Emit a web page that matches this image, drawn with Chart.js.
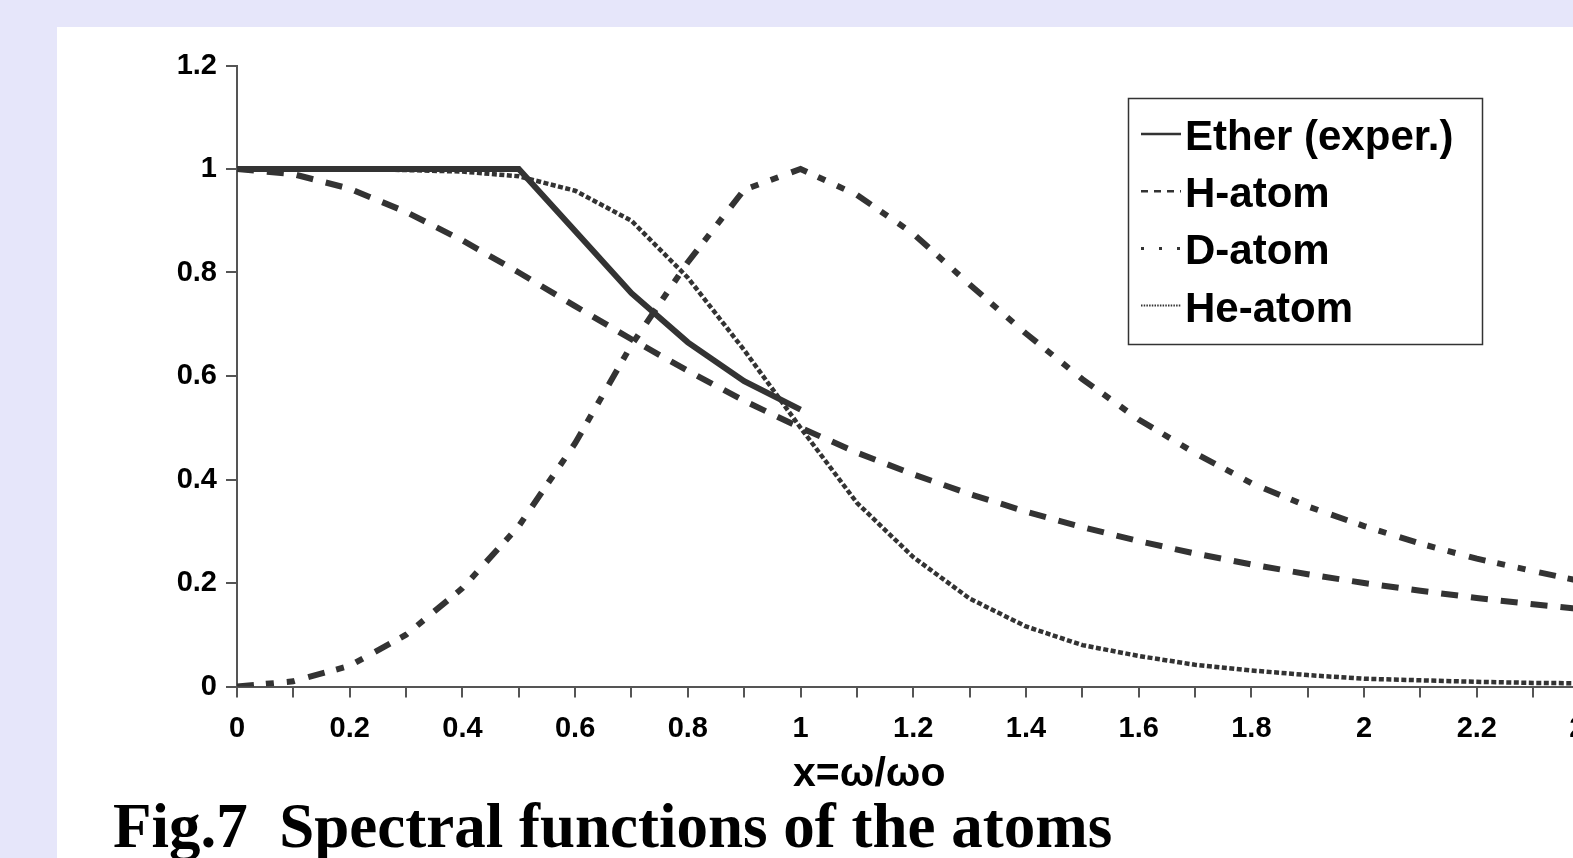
<!DOCTYPE html>
<html><head><meta charset="utf-8">
<script src="https://cdn.jsdelivr.net/npm/chart.js@4/dist/chart.umd.min.js"></script>
<style>
html,body{margin:0;padding:0;width:1573px;height:858px;overflow:hidden;background:#e6e6fa;}
#panel{position:absolute;left:57px;top:27px;width:1700px;height:900px;background:#fff;}
#c{position:absolute;left:0;top:0;}
#xt{position:absolute;left:793px;top:752px;font:bold 41px "Liberation Sans",Arial,sans-serif;line-height:40px;color:#000;white-space:pre;}
#fig{position:absolute;left:113px;top:795px;font:bold 63px "Liberation Serif","Times New Roman",serif;line-height:62px;color:#000;white-space:pre;}
</style></head>
<body>
<div id="panel"></div>
<canvas id="c" width="1700" height="858"></canvas>
<div id="xt">x=ω/ωo</div>
<div id="fig">Fig.7  Spectral functions of the atoms</div>
<script>
const xValues = [0,0.1,0.2,0.3,0.4,0.5,0.6,0.7,0.8,0.9,1.0,1.1,1.2,1.3,1.4,1.5,1.6,1.7,1.8,1.9,2.0,2.1,2.2,2.3,2.4];
const seriesNames = ["Ether (exper.)","H-atom","D-atom","He-atom"];
const ether = [1,1,1,1,1,1,0.88,0.76,0.665,0.59,0.535];
const hAtom = [1,0.99,0.962,0.917,0.862,0.8,0.735,0.671,0.61,0.552,0.5,0.452,0.41,0.372,0.338,0.308,0.281,0.257,0.236,0.217,0.2,0.185,0.171,0.159,0.148];
const dAtom = [0,0.01,0.04,0.1,0.19,0.31,0.47,0.66,0.82,0.96,1.0,0.95,0.875,0.777,0.682,0.594,0.516,0.451,0.393,0.348,0.31,0.276,0.247,0.223,0.2];
const heAtom = [1,1,1,0.998,0.995,0.986,0.958,0.9,0.79,0.65,0.5,0.355,0.25,0.17,0.116,0.08,0.059,0.042,0.031,0.022,0.015,0.012,0.009,0.007,0.006];
const yTicks = [0,0.2,0.4,0.6,0.8,1,1.2];

const pts = arr => arr.map((v,i)=>({x:xValues[i], y:v}));
const lineCol = '#333333';
const legendStyles = [
  {dash:[], width:2.5},
  {dash:[7,6], width:2.5},
  {dash:[3,15], width:3},
  {dash:[1.5,1.2], width:2}
];
const boxLegend = {
  id:'boxLegend',
  afterDraw(chart){
    const ctx = chart.ctx;
    ctx.save();
    ctx.strokeStyle = '#333'; ctx.lineWidth = 1.5; ctx.setLineDash([]);
    ctx.strokeRect(1128.5, 98.5, 354, 246);
    chart.data.datasets.forEach((ds,i)=>{
      const yb = 150 + i*57.2;
      const st = legendStyles[i];
      ctx.strokeStyle = lineCol; ctx.lineWidth = st.width; ctx.setLineDash(st.dash); ctx.lineCap='butt';
      ctx.beginPath(); ctx.moveTo(1141, yb-16); ctx.lineTo(1181, yb-16); ctx.stroke();
      ctx.setLineDash([]);
      ctx.fillStyle = '#000'; ctx.font = 'bold 42px "Liberation Sans", Arial, sans-serif';
      ctx.textBaseline = 'alphabetic'; ctx.textAlign = 'left';
      ctx.fillText(ds.label, 1185, yb);
    });
    ctx.restore();
  }
};
const tickFont = {family:'"Liberation Sans", Arial, sans-serif', size:29, weight:'bold'};
new Chart(document.getElementById('c'), {
  type:'line',
  data:{datasets:[
    {label:seriesNames[0], data:pts(ether), borderColor:lineCol, borderWidth:6, borderDash:[]},
    {label:seriesNames[1], data:pts(hAtom), borderColor:lineCol, borderWidth:6, borderDash:[17,13]},
    {label:seriesNames[2], data:pts(dAtom), borderColor:lineCol, borderWidth:6, borderDash:[17,12,8,13,8,14]},
    {label:seriesNames[3], data:pts(heAtom), borderColor:lineCol, borderWidth:4.5, borderDash:[5,2.5]}
  ]},
  options:{
    responsive:false, animation:false,
    layout:{padding:{left:57, right:110.5, top:65.5, bottom:111.5}},
    elements:{point:{radius:0, hoverRadius:0}, line:{tension:0, borderCapStyle:'butt', fill:false}},
    plugins:{legend:{display:false}, tooltip:{enabled:false}, title:{display:false}},
    scales:{
      x:{type:'linear', min:0, max:2.4,
        afterFit(s){ s.height = 60; },
        border:{color:'#555', width:2},
        grid:{drawOnChartArea:false, drawTicks:true, tickLength:11, color:'#555', lineWidth:2},
        ticks:{stepSize:0.1, autoSkip:false, maxRotation:0, padding:14, color:'#000', font:tickFont,
          callback:(v)=>{const k=Math.round(v*10); return k%2===0 ? String(k/10) : '';}}
      },
      y:{type:'linear', min:0, max:1.2,
        afterFit(s){ s.width = 180; },
        afterBuildTicks(s){ s.ticks = yTicks.map(v=>({value:v})); },
        border:{color:'#555', width:2},
        grid:{drawOnChartArea:false, drawTicks:true, tickLength:11, color:'#555', lineWidth:2},
        ticks:{padding:9, color:'#000', font:tickFont, callback:(v)=>String(Math.round(v*10)/10)}
      }
    }
  },
  plugins:[boxLegend]
});
</script>
</body></html>
